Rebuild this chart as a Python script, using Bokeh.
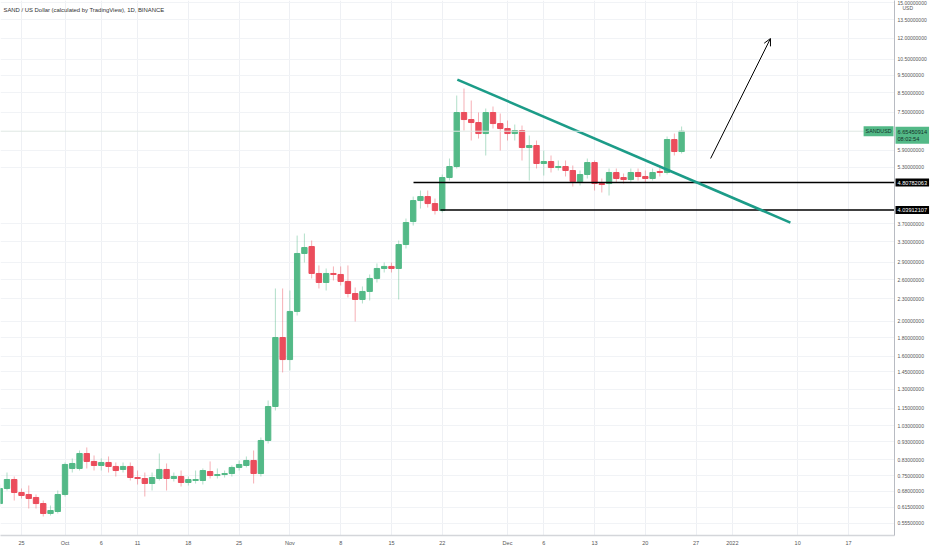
import math
import pandas as pd
from bokeh.plotting import figure
from bokeh.models import (Range1d, FixedTicker, PrintfTickFormatter, Label, Arrow,
                          OpenHead, Span, ColumnDataSource, GridBox)
from bokeh.embed import file_html
from bokeh.resources import INLINE

# ---------------- data (SAND/USD daily) ----------------
first_day = "2021-09-22"
last_day = "2021-12-25"

opens = [0.6296, 0.6925, 0.7331, 0.6752, 0.6667, 0.6542, 0.6296, 0.5911, 0.5986, 0.6667,
         0.7862, 0.7862, 0.8644, 0.8218, 0.8012, 0.8166, 0.7962, 0.7812, 0.7962, 0.7424,
         0.7377, 0.7148, 0.7377, 0.7812, 0.7377, 0.7471, 0.7193, 0.7285, 0.7285, 0.7711,
         0.7518, 0.7566, 0.7614, 0.7912, 0.8012, 0.8270, 0.7614, 0.9386, 1.164, 1.802,
         1.567, 2.125, 3.068, 3.206, 2.703, 2.553, 2.703, 2.686, 2.570, 2.381,
         2.293, 2.412, 2.619, 2.790, 2.826, 2.790, 3.247, 3.756, 4.290, 4.400,
         4.209, 4.027, 4.963, 5.322, 7.492, 7.166, 7.031, 6.558, 7.492, 6.987,
         6.769, 6.558, 6.684, 6.002, 6.079, 5.424, 5.493, 5.288, 5.322, 5.189,
         4.839, 5.059, 5.458, 4.778, 4.778, 5.124, 4.963, 4.901, 5.124, 4.996,
         4.932, 5.156, 5.124, 6.314, 5.852]
closes = [0.6925, 0.7331, 0.6752, 0.6625, 0.6500, 0.6296, 0.5911, 0.6024, 0.6667, 0.8063,
          0.8114, 0.8644, 0.8218, 0.8012, 0.8166, 0.7962, 0.7760, 0.7962, 0.7424, 0.7377,
          0.7148, 0.7424, 0.7812, 0.7377, 0.7471, 0.7193, 0.7331, 0.7331, 0.7760, 0.7518,
          0.7566, 0.7614, 0.7912, 0.8063, 0.8270, 0.7614, 0.9386, 1.164, 1.802, 1.567,
          2.125, 3.068, 3.186, 2.703, 2.553, 2.703, 2.686, 2.570, 2.381, 2.293,
          2.412, 2.619, 2.790, 2.826, 2.790, 3.247, 3.732, 4.290, 4.400, 4.209,
          4.027, 4.963, 5.322, 7.492, 7.166, 7.031, 6.558, 7.492, 6.987, 6.769,
          6.558, 6.684, 6.002, 6.079, 5.424, 5.493, 5.288, 5.322, 5.189, 4.839,
          5.059, 5.458, 4.778, 4.748, 5.124, 4.932, 4.901, 5.124, 4.996, 4.932,
          5.124, 5.124, 6.314, 5.852, 6.6545]
highs = [0.7103, 0.7662, 0.7471, 0.6925, 0.7058, 0.6667, 0.6417, 0.6217, 0.6838, 0.8166,
         0.8375, 0.8810, 0.8979, 0.8536, 0.8375, 0.8482, 0.8166, 0.8166, 0.8166, 0.7760,
         0.7662, 0.7662, 0.8644, 0.8114, 0.7662, 0.7760, 0.7471, 0.7760, 0.7862, 0.8218,
         0.7862, 0.7760, 0.8012, 0.8270, 0.8482, 0.8810, 0.9566, 1.209, 2.458, 2.458,
         2.427, 3.437, 3.481, 3.330, 2.844, 2.790, 2.826, 2.826, 2.844, 2.474,
         2.490, 2.686, 2.880, 2.898, 2.898, 3.330, 3.828, 4.400, 4.571, 4.571,
         4.345, 5.059, 5.598, 8.343, 8.721, 8.083, 7.492, 7.684, 7.782, 7.444,
         7.121, 6.943, 6.899, 6.476, 6.274, 5.889, 5.706, 5.528, 5.528, 5.356,
         5.189, 5.598, 5.528, 4.932, 5.255, 5.255, 5.091, 5.255, 5.255, 5.189,
         5.255, 5.322, 6.435, 6.558, 6.856]
lows = [0.6178, 0.6838, 0.6417, 0.6500, 0.6100, 0.6100, 0.5800, 0.5836, 0.5911, 0.6583,
        0.7662, 0.7760, 0.7862, 0.7760, 0.7760, 0.7662, 0.7471, 0.7662, 0.7285, 0.7103,
        0.6583, 0.6838, 0.7285, 0.6838, 0.7239, 0.7013, 0.7058, 0.7148, 0.7103, 0.7377,
        0.7377, 0.7424, 0.7471, 0.7760, 0.7912, 0.7148, 0.7471, 0.9209, 1.135, 1.444,
        1.462, 2.071, 2.898, 2.619, 2.458, 2.427, 2.586, 2.505, 2.322, 1.994,
        2.235, 2.278, 2.553, 2.720, 2.720, 2.293, 3.166, 3.662, 4.078, 4.104,
        3.926, 3.976, 4.870, 5.255, 6.684, 6.274, 6.354, 5.706, 6.769, 5.889,
        6.274, 6.274, 5.528, 4.870, 5.255, 5.027, 5.124, 5.189, 4.996, 4.688,
        4.718, 4.932, 4.571, 4.514, 4.429, 4.809, 4.778, 4.809, 4.870, 4.809,
        4.870, 4.996, 5.059, 5.706, 5.778]

last_price = 6.65450914
last_price_text = "6.65450914"
countdown_text = "08:02:54"
symbol = "SANDUSD"

level_prices = [4.80782063, 4.03912107]
level_texts = ["4.80782063", "4.03912107"]
level_starts = ["2021-11-18 01:00", "2021-11-21 18:00"]

trend_dates = ["2021-11-24 02:00", "2022-01-09 00:00"]
trend_prices = [9.23, 3.73]

arrow_dates = ["2021-12-29 00:00", "2022-01-06 06:00"]
arrow_prices = [5.60, 11.97]

y_ticks = [0.555, 0.615, 0.68, 0.75, 0.83, 0.93, 1.03, 1.15, 1.3, 1.45, 1.6, 1.8, 2.0,
           2.3, 2.6, 2.9, 3.3, 3.7, 5.3, 5.9, 7.5, 8.5, 9.5, 10.5, 12.0, 13.5, 15.0]
x_tick_dates = ["2021-09-25", "2021-10-01", "2021-10-06", "2021-10-11", "2021-10-18",
                "2021-10-25", "2021-11-01", "2021-11-08", "2021-11-15", "2021-11-22",
                "2021-12-01", "2021-12-06", "2021-12-13", "2021-12-20", "2021-12-27",
                "2022-01-01", "2022-01-10", "2022-01-17"]
x_tick_labels = ["25", "Oct", "6", "11", "18", "25", "Nov", "8", "15", "22",
                 "Dec", "6", "13", "20", "27", "2022", "10", "17"]

title_text = "SAND / US Dollar (calculated by TradingView), 1D, BINANCE"

# ---------------- styling ----------------
UP = "#53b987"
DOWN = "#eb4d5c"
TREND = "#1c9c88"
FONT = "Liberation Sans"

def ms(d):
    return int(pd.Timestamp(d).value // 10**6)

DAY = 86400000
anchor = ms("2021-09-25")
x_start = anchor - 2.895 * DAY
x_end = anchor + 120.35 * DAY
FRAME_W, FRAME_H = 894, 535
PAGE_W, PAGE_H = 932, 550
px = (x_end - x_start) / FRAME_W
y_top, y_bot = 15.23, 0.5142
ln_per_px = math.log(y_top / y_bot) / FRAME_H

dates = pd.date_range(first_day, last_day, freq="D")
df = pd.DataFrame({"date": dates, "open": opens, "close": closes, "high": highs, "low": lows})
src_up = ColumnDataSource(df[df.close >= df.open])
src_dn = ColumnDataSource(df[df.close < df.open])

p = figure(frame_width=FRAME_W, frame_height=FRAME_H, x_axis_type="datetime", y_axis_type="log",
           x_range=Range1d(x_start, x_end), y_range=Range1d(y_bot, y_top),
           y_axis_location="right", toolbar_location=None, output_backend="svg",
           min_border_left=0, min_border_top=0, min_border_right=PAGE_W - FRAME_W,
           min_border_bottom=PAGE_H - FRAME_H)
p.outline_line_color = None
p.background_fill_color = "white"
p.border_fill_color = "white"

# grids
xt = FixedTicker(ticks=[ms(d) for d in x_tick_dates])
yt = FixedTicker(ticks=y_ticks)
p.xgrid.ticker = xt
p.ygrid.ticker = yt
p.xgrid.grid_line_color = "#eef0f4"
p.ygrid.grid_line_color = "#f1f3f6"

# axes
xa = p.xaxis[0]
xa.ticker = xt
xa.major_label_overrides = {ms(d): lab for d, lab in zip(x_tick_dates, x_tick_labels)}
xa.major_tick_line_color = None
xa.minor_tick_line_color = None
xa.major_tick_out = 0
xa.major_label_standoff = 4
xa.axis_line_color = "#d4d6da"
xa.axis_line_width = 1.5
xa.major_label_text_font = FONT
xa.major_label_text_font_size = "5.5px"
xa.major_label_text_color = "#555555"

ya = p.yaxis[0]
ya.ticker = yt
ya.formatter = PrintfTickFormatter(format="%.8f")
ya.major_tick_line_color = None
ya.minor_tick_line_color = None
ya.major_tick_out = 0
ya.major_label_standoff = 3
ya.axis_line_color = "#b8bbc2"
ya.major_label_text_font = FONT
ya.major_label_text_font_size = "5px"
ya.major_label_text_color = "#555555"

# price line
p.add_layout(Span(location=last_price, dimension="width", line_color="#dfe8e3", line_width=1))

# candles
w = 0.74 * DAY
p.segment(x0="date", y0="high", x1="date", y1="low", source=src_up, line_color=UP, line_alpha=0.45)
p.segment(x0="date", y0="high", x1="date", y1="low", source=src_dn, line_color=DOWN, line_alpha=0.45)
p.vbar(x="date", width=w, top="close", bottom="open", source=src_up, fill_color=UP, line_color=UP)
p.vbar(x="date", width=w, top="open", bottom="close", source=src_dn, fill_color=DOWN, line_color=DOWN)

# horizontal levels
p.segment(x0=[ms(d) for d in level_starts], y0=level_prices,
          x1=[x_end + 5 * px] * len(level_prices), y1=level_prices,
          line_color="black", line_width=1.4)

# trend line
p.line(x=[ms(d) for d in trend_dates], y=trend_prices, line_color=TREND, line_width=2.6)

# arrow
p.add_layout(Arrow(end=OpenHead(size=7, line_width=1, line_color="black"),
                   x_start=ms(arrow_dates[0]), y_start=arrow_prices[0],
                   x_end=ms(arrow_dates[1]), y_end=arrow_prices[1],
                   line_color="black", line_width=1))

# title
p.add_layout(Label(x=x_start + 3 * px, y=y_top, text=title_text, text_font=FONT,
                   text_font_size="5.9px", text_color="#333333", text_baseline="top",
                   y_offset=-6))

# ---------------- transparent overlay for the price-scale badges ----------------
ov = figure(frame_width=PAGE_W, frame_height=PAGE_H, x_axis_type="datetime", y_axis_type="log",
            x_range=Range1d(x_start, x_start + PAGE_W * px),
            y_range=Range1d(y_bot * math.exp(-(PAGE_H - FRAME_H) * ln_per_px), y_top),
            x_axis_location=None, y_axis_location=None, toolbar_location=None,
            output_backend="svg", min_border=0)
ov.outline_line_color = None
ov.background_fill_alpha = 0
ov.border_fill_alpha = 0
ov.grid.visible = False

ov.add_layout(Label(x=x_end + 8 * px, y=y_top, text="USD", text_font=FONT,
                    text_font_size="5px", text_color="#555555", text_baseline="top",
                    y_offset=-4))
for lp, lt in zip(level_prices, level_texts):
    ov.add_layout(Label(x=x_end + 1 * px, y=lp, text=lt, text_font=FONT, text_font_size="5.6px",
                        text_color="white", text_baseline="middle", text_align="left",
                        background_fill_color="black", padding=2))
ov.add_layout(Label(x=x_end + 1 * px, y=last_price, text=last_price_text + "\n" + countdown_text,
                    text_font=FONT, text_font_size="5.6px", text_color="#14332a",
                    text_baseline="middle", text_align="left", y_offset=-4,
                    background_fill_color=UP, padding=2))
ov.add_layout(Label(x=x_end - 1 * px, y=last_price, text=symbol, text_font=FONT,
                    text_font_size="5.3px", text_color="#14332a", text_baseline="middle",
                    text_align="right", background_fill_color=UP, padding=2))

layout = GridBox(children=[(p, 0, 0), (ov, 0, 0)])

open("out.html", "w").write(file_html(layout, INLINE))
